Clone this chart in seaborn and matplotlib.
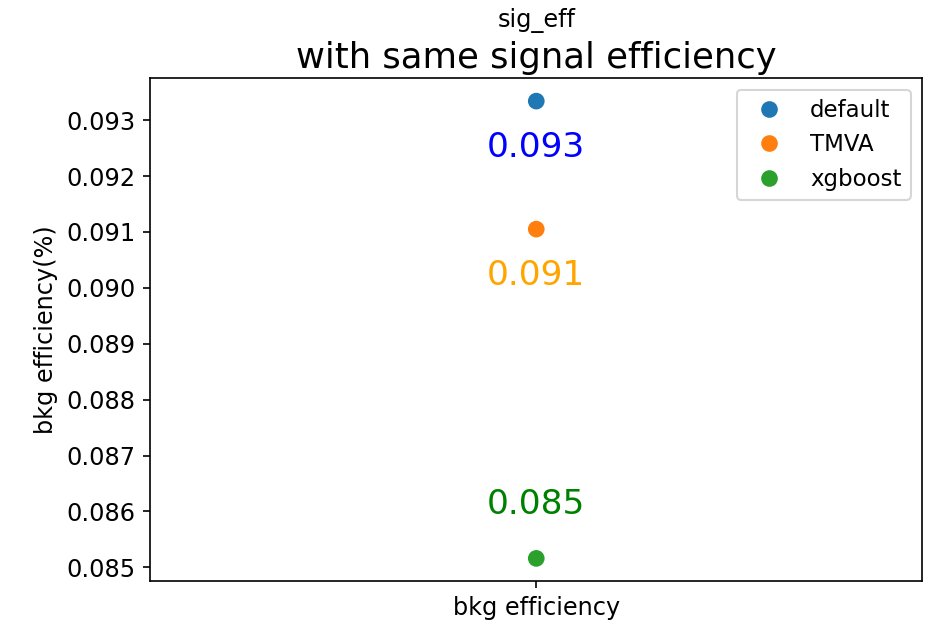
import matplotlib
matplotlib.use("Agg")
import matplotlib.pyplot as plt
import seaborn as sns
import pandas as pd

# Background efficiency of each classifier at a fixed signal efficiency
models = ["default", "TMVA", "xgboost"]
bkg_eff = [0.09334, 0.09105, 0.08516]
label_colors = ["blue", "orange", "green"]
label_offsets = [-0.001, -0.001, 0.0008]
category = "bkg efficiency"

df = pd.DataFrame({"metric": [category] * len(models), "value": bkg_eff, "model": models})

plt.rcParams["font.size"] = 11.5

fig = plt.figure(figsize=(940 / 150, 621 / 150), dpi=150)
ax = fig.add_axes([0.16, 0.064, 0.821, 0.81])

sns.scatterplot(data=df, x="metric", y="value", hue="model", palette="tab10",
                s=64, edgecolor="none", ax=ax)

xpos = 0
for v, c, off in zip(bkg_eff, label_colors, label_offsets):
    ax.text(xpos, v + off, f"{v:.3f}", color=c, fontsize=16.5, ha="center")

ax.tick_params(labelsize=11.5)
ax.set_xlabel("")
ax.set_ylabel("bkg efficiency(%)", fontsize=11.5)
ax.set_title("with same signal efficiency", fontsize=17, pad=5)
ax.text(0.5, 1.09, "sig_eff", transform=ax.transAxes, ha="center", va="bottom", fontsize=11.5)
ax.legend(loc="upper right", title=None, fontsize=11)

fig.savefig("out.png", dpi=150)
